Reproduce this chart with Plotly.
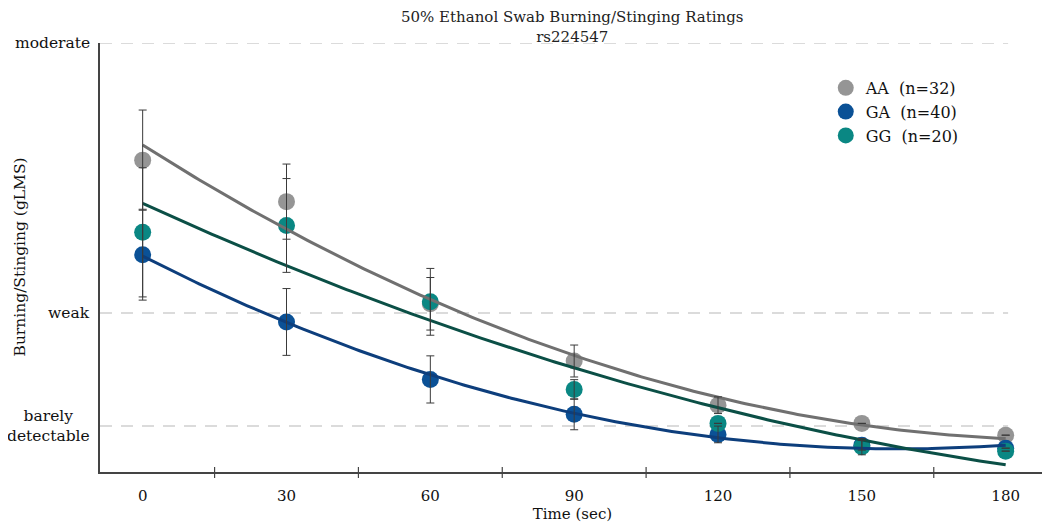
import numpy as np
import plotly.graph_objects as go

# ---- data ----
times = [0, 30, 60, 90, 120, 150, 180]
aa_mean = [12.23, 10.54, 6.38, 4.05, 2.25, 1.51, 1.03]
ga_mean = [8.38, 5.64, 3.30, 1.88, 1.06, 0.62, 0.50]
gg_mean = [9.29, 9.57, 6.46, 2.89, 1.51, 0.56, 0.38]
aa_err = [2.04, 1.53, 1.07, 0.65, 0.34, 0.0, 0.0]
ga_err = [1.85, 1.36, 0.96, 0.63, 0.34, 0.20, 0.0]
gg_err = [2.63, 1.91, 1.36, 0.40, 0.0, 0.33, 0.0]
series_names = ["AA\u00a0\u00a0(n=32)", "GA\u00a0\u00a0(n=40)", "GG\u00a0\u00a0(n=20)"]

y_label_vals = [17, 6, 1.4]
y_label_text = ["moderate", "weak", "barely<br>detectable"]
x_label_vals = [0, 30, 60, 90, 120, 150, 180]
x_minor_ticks = [15, 45, 75, 105, 135, 165]

marker_colors = ["#959595", "#0b5196", "#0a8783"]
line_colors = ["#707070", "#0d3e7c", "#0b4f46"]

FONT = "DejaVu Serif, Liberation Serif, serif"
X_RANGE = [-8.9, 188.2]
Y_RANGE = [-0.47, 17]

fig = go.Figure()

means = [aa_mean, ga_mean, gg_mean]
errs = [aa_err, ga_err, gg_err]

# markers
for name, m, mc in zip(series_names, means, marker_colors):
    fig.add_trace(go.Scatter(x=times, y=m, mode="markers", name=name,
                             marker=dict(size=17, color=mc, line=dict(width=0))))

# quadratic fit lines
tt = np.linspace(times[0], times[-1], 200)
for m, lc in zip(means, line_colors):
    coef = np.polyfit(times, m, 2)
    fig.add_trace(go.Scatter(x=tt, y=np.polyval(coef, tt), mode="lines",
                             line=dict(color=lc, width=3), showlegend=False,
                             hoverinfo="skip"))

# error bars on top
for m, e in zip(means, errs):
    fig.add_trace(go.Scatter(x=times, y=m, mode="markers", showlegend=False,
                             marker=dict(size=1, opacity=0),
                             error_y=dict(type="data", array=e, visible=True,
                                          color="#3a3a3a", thickness=1, width=4)))

shapes = []
for v in y_label_vals:
    shapes.append(dict(type="line", xref="x", yref="y", x0=X_RANGE[0], x1=180.5,
                       y0=v, y1=v, layer="below",
                       line=dict(color="#cfcfcf", width=1.5, dash="12px,9px")))
for xv in x_minor_ticks:
    shapes.append(dict(type="line", xref="x", yref="paper", ysizemode="pixel",
                       yanchor=0, x0=xv, x1=xv, y0=-6, y1=5,
                       line=dict(color="#444444", width=1.2)))

annotations = []
for v, t in zip(y_label_vals, y_label_text):
    annotations.append(dict(x=0, xref="paper", y=v, yref="y", text=t,
                            xanchor="right", yanchor="middle", xshift=-8,
                            align="center", showarrow=False,
                            font=dict(family=FONT, size=15.5, color="#111111")))
annotations.append(dict(x=-81 / 945, xref="paper", y=0.5, yref="paper",
                        text="Burning/Stinging (gLMS)", textangle=-90,
                        showarrow=False, xanchor="center", yanchor="middle",
                        font=dict(family=FONT, size=15.5, color="#111111")))
annotations.append(dict(x=0.5, xref="paper", y=1, yref="paper",
                        text="50% Ethanol Swab Burning/Stinging Ratings<br>rs224547",
                        showarrow=False, xanchor="center", yanchor="bottom",
                        yshift=-5, align="center",
                        font=dict(family=FONT, size=15, color="#222222")))

fig.update_layout(
    width=1042, height=517,
    margin=dict(l=92, r=5, t=35, b=53),
    paper_bgcolor="white", plot_bgcolor="white",
    font=dict(family=FONT, size=15, color="#111111"),
    xaxis=dict(range=X_RANGE, tickvals=x_label_vals,
               ticktext=[str(v) for v in x_label_vals],
               ticks="outside", ticklen=9, tickcolor="rgba(0,0,0,0)",
               showgrid=False, zeroline=False, showline=True,
               linecolor="#444444", linewidth=1.5,
               tickfont=dict(family=FONT, size=15),
               title=dict(text="Time (sec)", standoff=4,
                          font=dict(family=FONT, size=15))),
    yaxis=dict(range=Y_RANGE, showticklabels=False, ticks="",
               showgrid=False, zeroline=False, showline=True,
               linecolor="#444444", linewidth=1.5),
    legend=dict(x=0.768, y=0.935, xanchor="left", yanchor="top",
                bgcolor="rgba(0,0,0,0)", tracegroupgap=0,
                font=dict(family=FONT, size=16)),
    shapes=shapes,
    annotations=annotations,
    showlegend=True,
)

fig.write_html("out.html")
